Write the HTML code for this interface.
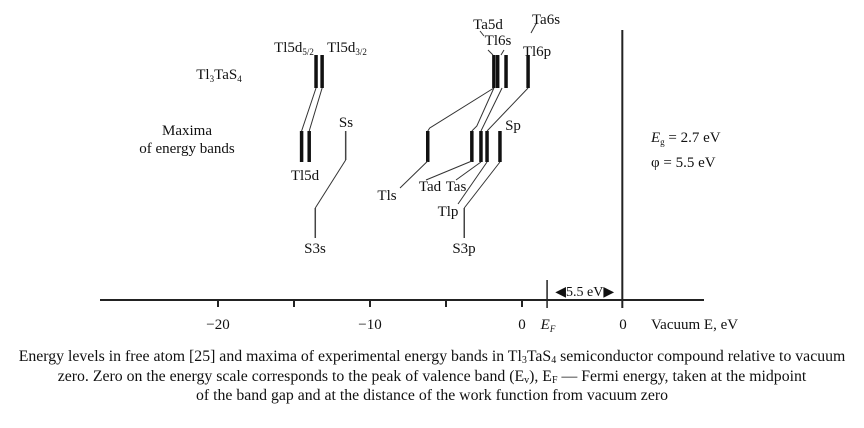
<!DOCTYPE html>
<html><head><meta charset="utf-8"><style>
body{margin:0;background:#fff;width:864px;height:428px;overflow:hidden;font-family:"Liberation Serif",serif}
svg text{font-family:"Liberation Serif",serif;fill:#111}
#cap{position:absolute;left:0;top:347px;width:864px;text-align:center;font-size:15.8px;line-height:19.5px;color:#111;white-space:nowrap}
#cap sub{font-size:10px;line-height:0;vertical-align:-2px}
</style></head><body>
<svg width="864" height="428" style="position:absolute;left:0;top:0">
<g id="axis"></g>
<g id="marks"></g>
<g id="labels"></g>
</svg>
<div id="cap">Energy levels in free atom [25] and maxima of experimental energy bands in Tl<sub>3</sub>TaS<sub>4</sub> semiconductor compound relative to vacuum<br>zero. Zero on the energy scale corresponds to the peak of valence band (E<sub>v</sub>), E<sub>F</sub> — Fermi energy, taken at the midpoint<br>of the band gap and at the distance of the work function from vacuum zero</div>
<script>
// energies (eV relative to valence-band peak)
const tickValues=[-20,-15,-10,-5,0];
const tickLabels=["−20","","−10","","0"];
const atomTopE=[-13.55,-13.15,-1.85,-1.6,-1.05,0.4];        // free-atom levels (top row)
const atomTopNames=["Tl5d52","Tl5d32","Ta5d","Tl6s","Ta6s","Tl6p"];
const bandE=[-14.5,-14.0,-6.2,-3.3,-2.7,-2.3,-1.45];         // band maxima (middle row)
const bandNames=["Tl5d-a","Tl5d-b","Tls","Tad","Tas","Tlp","Sp"];
const sLevelE=[-11.6,-3.8];                                  // Ss, Sp thin lines
const s3E=[-13.6,-3.8];                                      // S3s, S3p
const vacuumE=6.6, fermiE=1.65;
const X=e=>522+e*15.2;
const NS="http://www.w3.org/2000/svg";
function mk(p,t,a){const e=document.createElementNS(NS,t);for(const k in a)e.setAttribute(k,a[k]);p.appendChild(e);return e;}
const ax=document.getElementById('axis'),mg=document.getElementById('marks'),lb=document.getElementById('labels');
let l=mk(ax,'line',{x1:100,y1:300,x2:704,y2:300,stroke:'#222','stroke-width':2});

tickValues.forEach((v,i)=>{
 let t=mk(ax,'line',{x1:X(v),y1:300,x2:X(v),y2:307,stroke:'#222','stroke-width':2});
 
 if(tickLabels[i]){let tx=mk(ax,'text',{x:X(v),y:329,'font-size':15,'text-anchor':'middle'});tx.textContent=tickLabels[i];
 }
});
let vl=mk(ax,'line',{x1:X(vacuumE),y1:30,x2:X(vacuumE),y2:308,stroke:'#222','stroke-width':2});

let fl=mk(ax,'line',{x1:X(fermiE),y1:280,x2:X(fermiE),y2:308,stroke:'#222','stroke-width':1.5});

let ar=mk(ax,'text',{x:(X(fermiE)+X(vacuumE))/2,y:296,'font-size':14,'text-anchor':'middle'});ar.textContent='◀5.5 eV▶';

function bar(e,y1,y2,w,c){let b=mk(mg,'line',{x1:X(e),y1:y1,x2:X(e),y2:y2,stroke:c||'#111','stroke-width':w});
}
function seg(pts,w){let p=mk(mg,'polyline',{points:pts.map(q=>q.join(',')).join(' '),fill:'none',stroke:'#333','stroke-width':w||1});
}
atomTopE.forEach(e=>bar(e,55,88,3.5));
bandE.forEach(e=>bar(e,131,162,3.5));
bar(sLevelE[0],131,160,1.5,'#444');
bar(s3E[0],208,238,1.5,'#444');bar(s3E[1],208,238,1.5,'#444');
// connectors
seg([[X(atomTopE[0]),88],[X(bandE[0]),131]]);
seg([[X(atomTopE[1]),88],[X(bandE[1]),131]]);
seg([[X(sLevelE[0]),160],[X(s3E[0]),208]]);
seg([[X(bandE[2]),131],[X(bandE[2])+2,128],[X(atomTopE[2]),88]]);
seg([[X(bandE[3]),131],[X(bandE[3])+5,126],[X(atomTopE[2]),88]]);
seg([[X(bandE[4]),131],[X(atomTopE[4])-4,88]]);
seg([[X(bandE[5]),131],[X(atomTopE[5]),88]]);
seg([[X(bandE[2]),161],[400,188]]);
seg([[X(bandE[3]),161],[426,180]]);
seg([[X(bandE[4]),162],[456,180]]);
seg([[X(bandE[5]),162],[458,204]]);
seg([[X(bandE[6]),162],[X(s3E[1]),208]]);
seg([[480,31],[484,36]]);seg([[537,22],[531,33]]);seg([[488,50],[493,55]]);seg([[504,50],[501,55]]);
function txt(x,y,s,size,anchor){let t=mk(lb,'text',{x:x,y:y,'font-size':size||15,'text-anchor':anchor||'middle'});t.innerHTML=s;
return t;}
txt(294,52,'Tl5d<tspan font-size="9" dy="3">5/2</tspan>');
txt(347,52,'Tl5d<tspan font-size="9" dy="3">3/2</tspan>');
txt(219,79,'Tl<tspan font-size="9" dy="3">3</tspan><tspan dy="-3">TaS</tspan><tspan font-size="9" dy="3">4</tspan>');
txt(187,135,'Maxima');txt(187,153,'of energy bands');
txt(305,180,'Tl5d');txt(346,127,'Ss');txt(315,253,'S3s');
txt(488,29,'Ta5d');txt(546,24,'Ta6s');txt(498,45,'Tl6s');txt(537,56,'Tl6p');
txt(513,130,'Sp');txt(387,200,'Tls');txt(430,191,'Tad');txt(456,191,'Tas');txt(448,216,'Tlp');txt(464,253,'S3p');
txt(548,329,'<tspan font-style="italic">E</tspan><tspan font-style="italic" font-size="9" dy="3">F</tspan>');
txt(623,329,'0');txt(651,329,'Vacuum E, eV',15,'start');
txt(651,142,'<tspan font-style="italic">E</tspan><tspan font-size="9" dy="3">g</tspan><tspan dy="-3"> = 2.7 eV</tspan>',15,'start');
txt(651,167,'φ = 5.5 eV',15,'start');
</script>
</body></html>
